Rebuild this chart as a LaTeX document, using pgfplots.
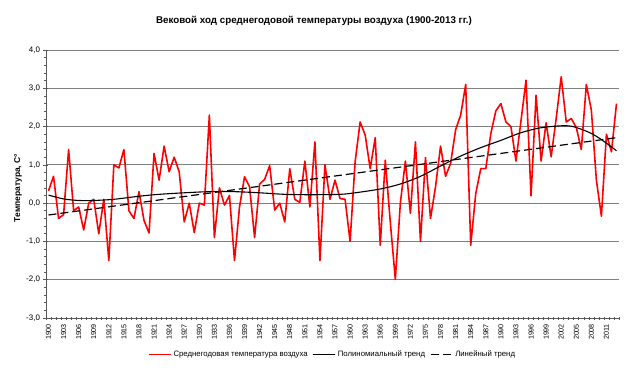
\documentclass[border=0pt]{standalone}
\usepackage{pgfplots}
\pgfplotsset{compat=1.18}
\usepackage{pgfplotstable}
\usepackage{fontspec}
\setmainfont{Liberation Sans}
\pgfplotstableread{
year t
1900 0.32
1901 0.70
1902 -0.40
1903 -0.30
1904 1.40
1905 -0.20
1906 -0.10
1907 -0.70
1908 0.00
1909 0.10
1910 -0.80
1911 0.10
1912 -1.50
1913 1.00
1914 0.92
1915 1.40
1916 -0.20
1917 -0.40
1918 0.30
1919 -0.45
1920 -0.78
1921 1.30
1922 0.60
1923 1.49
1924 0.82
1925 1.20
1926 0.82
1927 -0.49
1928 0.00
1929 -0.77
1930 0.00
1931 -0.05
1932 2.30
1933 -0.90
1934 0.40
1935 -0.05
1936 0.20
1937 -1.50
1938 -0.10
1939 0.69
1940 0.43
1941 -0.90
1942 0.50
1943 0.62
1944 0.98
1945 -0.18
1946 0.00
1947 -0.49
1948 0.90
1949 0.10
1950 0.02
1951 1.10
1952 -0.10
1953 1.60
1954 -1.50
1955 1.00
1956 0.10
1957 0.60
1958 0.12
1959 0.10
1960 -1.00
1961 1.08
1962 2.12
1963 1.78
1964 0.90
1965 1.71
1966 -1.10
1967 1.12
1968 -0.50
1969 -1.99
1970 0.00
1971 1.10
1972 -0.27
1973 1.60
1974 -1.00
1975 1.19
1976 -0.40
1977 0.43
1978 1.49
1979 0.70
1980 1.04
1981 1.92
1982 2.30
1983 3.10
1984 -1.10
1985 0.25
1986 0.90
1987 0.90
1988 1.82
1989 2.41
1990 2.60
1991 2.12
1992 2.00
1993 1.10
1994 2.15
1995 3.21
1996 0.19
1997 2.82
1998 1.10
1999 2.10
2000 1.21
2001 2.21
2002 3.30
2003 2.12
2004 2.21
2005 1.98
2006 1.40
2007 3.10
2008 2.43
2009 0.60
2010 -0.34
2011 1.80
2012 1.34
2013 2.60
}\temps
\pgfplotstableread{
year t
1900 0.21
1903 0.11
1906 0.07
1909 0.07
1913 0.10
1918 0.18
1922 0.23
1927 0.27
1932 0.30
1937 0.30
1942 0.27
1947 0.23
1952 0.22
1958 0.23
1961 0.27
1966 0.37
1970 0.50
1974 0.70
1978 0.97
1982 1.23
1986 1.45
1990 1.64
1994 1.84
1998 1.97
2002 2.02
2004 2.01
2006 1.93
2008 1.82
2010 1.66
2013 1.37
}\poly
\pgfplotstableread{
year t
1900 -0.31
2013 1.71
}\linear
\begin{document}
\begin{tikzpicture}
\begin{axis}[
  scale only axis, width=573bp, height=268bp,
  xmin=1899.5, xmax=2013.5, ymin=-3, ymax=4,
  axis lines*=left,
  axis line style={draw=black!65, line width=0.6bp},
  xtick={1900,1903,...,2011},
  major x tick style={draw=none},
  minor xtick={1899.5,1900.5,...,2013.5},
  ytick={-3,-2,...,4},
  minor ytick={-2.8,-2.6,...,3.9},
  tick align=center,
  major tick length=5bp, minor tick length=3bp,
  tick style={draw=black!65, line width=0.6bp},
  ymajorgrids,
  major grid style={draw=black!50, line width=0.8bp},
  /pgf/number format/assume math mode=true,
  x tick label style={rotate=90, anchor=east, font=\fontsize{7.2}{8}\selectfont, /pgf/number format/1000 sep={}},
  y tick label style={font=\fontsize{8}{9}\selectfont, /pgf/number format/.cd, fixed, fixed zerofill, precision=1, use comma},
  legend style={at={(0.5,-0.136)}, anchor=center, draw=none, fill=none, legend columns=3,
    font=\fontsize{7.8}{9}\selectfont, /tikz/every even column/.append style={column sep=3bp}},
  legend image code/.code={\draw[#1] (0bp,0bp) -- (22bp,0bp);},
]
\addplot[red, line width=1.6bp, line join=round] table[x=year, y=t] {\temps};
\addlegendentry{Среднегодовая температура воздуха}
\addplot[black, line width=1.1bp, smooth] table[x=year, y=t] {\poly};
\addlegendentry{Полиномиальный тренд}
\addplot[black, line width=1.2bp, dash pattern=on 8bp off 4bp] table[x=year, y=t] {\linear};
\addlegendentry{Линейный тренд}
\end{axis}
\node[font=\bfseries\fontsize{9.8}{11}\selectfont] at (268bp,297bp) {Вековой ход среднегодовой температуры воздуха (1900-2013 гг.)};
\node[font=\bfseries\fontsize{8.5}{10}\selectfont, rotate=90] at (-28bp,130bp) {Температура, С°};
\pgfresetboundingbox
\path[use as bounding box] (-46bp,-50bp) rectangle (582bp,318bp);
\end{tikzpicture}
\end{document}
